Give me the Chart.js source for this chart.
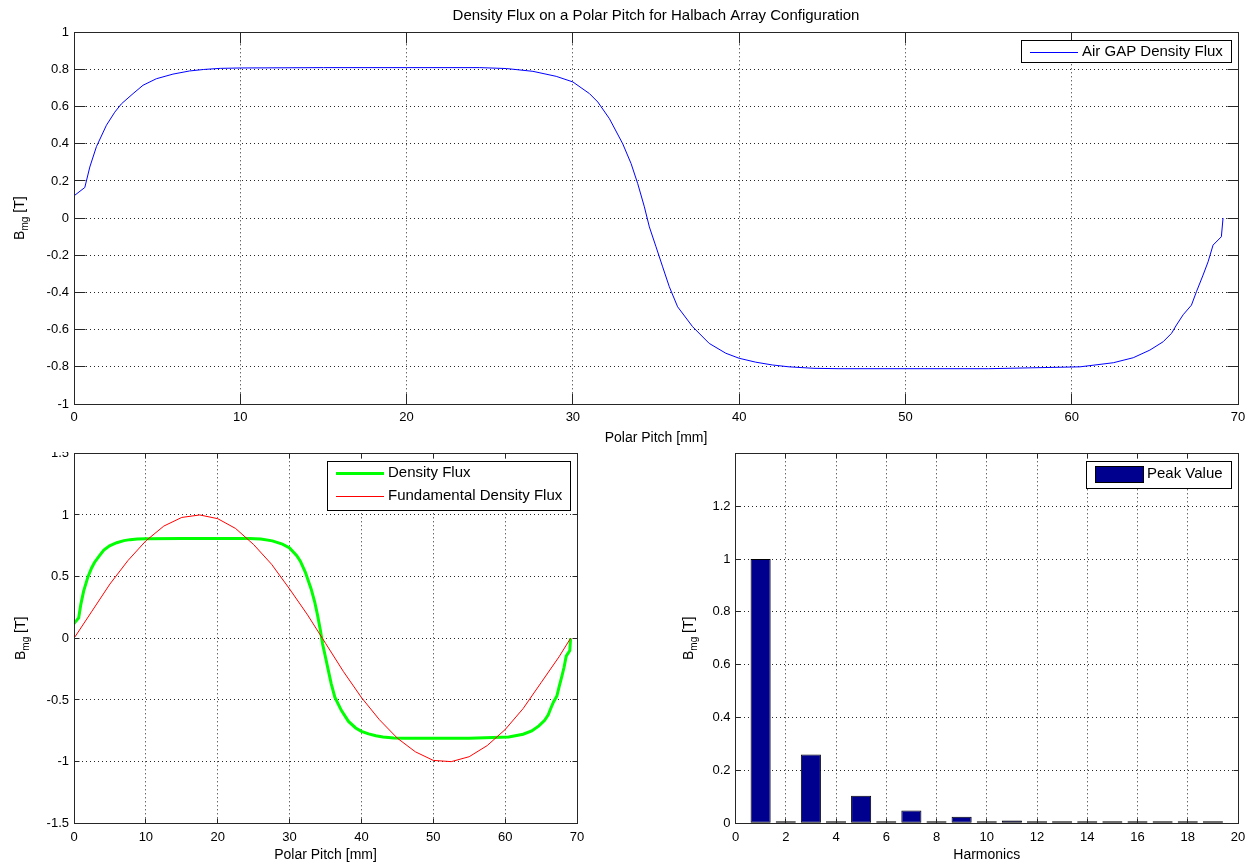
<!DOCTYPE html>
<html>
<head>
<meta charset="utf-8">
<title>Density Flux on a Polar Pitch for Halbach Array Configuration</title>
<script src="https://cdn.jsdelivr.net/npm/chart.js@4.4.1/dist/chart.umd.min.js"></script>
<style>
  html, body { margin: 0; padding: 0; background: #fff; }
  body { position: relative; width: 1254px; height: 867px; overflow: hidden; }
  .pane { position: absolute; background: #fff; }
</style>
</head>
<body>
<div class="pane" style="left:0;top:440px;width:620px;height:427px"><canvas id="fluxChart"></canvas></div>
<div class="pane" style="left:620px;top:440px;width:634px;height:427px"><canvas id="harmonicChart"></canvas></div>
<div class="pane" style="left:0;top:0;width:1254px;height:452px"><canvas id="airGapChart"></canvas></div>
<script>
// air gap flux density along the polar pitch
var pitchMm = [0, 0.65, 0.95, 1.35, 1.95, 2.45, 2.85, 3.55, 4.15, 4.95, 5.95, 6.95, 7.8, 8.8, 10, 15, 20, 24.4, 26, 27.6,
  29, 30, 31, 31.5, 32.2, 33, 33.5, 33.9, 34.3, 34.6, 35, 35.4, 35.8, 36.3, 37.2, 38.2, 39.2, 40, 41, 42,
  43, 44.5, 46, 50, 55, 60.5, 62.5, 63.7, 64.7, 65.5, 66, 66.3, 66.7, 67.2, 67.5, 67.9, 68.2, 68.5, 69, 69.1];
var airGapFlux = [0.12, 0.165, 0.275, 0.385, 0.5, 0.57, 0.615, 0.67, 0.715, 0.75, 0.775, 0.792, 0.8, 0.806, 0.808, 0.81, 0.81, 0.81, 0.805, 0.79,
  0.763, 0.733, 0.67, 0.625, 0.535, 0.40, 0.294, 0.186, 0.061, -0.047, -0.154, -0.262, -0.369, -0.477, -0.584, -0.674, -0.727, -0.754, -0.775, -0.79,
  -0.80, -0.808, -0.81, -0.81, -0.81, -0.80, -0.778, -0.751, -0.71, -0.665, -0.62, -0.575, -0.52, -0.468, -0.396, -0.306, -0.235, -0.145, -0.10, 0];

// fundamental component
var fundPitchMm = [0, 2.5, 5, 7.5, 10, 12.5, 15, 17.5, 20, 22.5, 25, 27.5, 30, 32.5, 35, 37.5, 40, 42.5, 45, 47.5,
  50, 52.5, 55, 57.5, 60, 62.5, 65, 67.5, 69.1];
var fundamentalFlux = [0, 0.22, 0.44, 0.63, 0.79, 0.91, 0.98, 1.0, 0.97, 0.89, 0.76, 0.6, 0.4, 0.19, -0.04, -0.27, -0.48, -0.66, -0.81, -0.92,
  -0.99, -1.0, -0.96, -0.87, -0.74, -0.57, -0.36, -0.15, 0];

// harmonic spectrum
var harmonicOrder = [1, 2, 3, 4, 5, 6, 7, 8, 9, 10, 11, 12, 13, 14, 15, 16, 17, 18, 19];
var harmonicPeak = [1.0, 0.003, 0.26, 0.003, 0.104, 0.003, 0.048, 0.003, 0.025, 0.003, 0.011, 0.003, 0.0075, 0.003, 0.004, 0.003, 0.003, 0.003, 0.003];

var chartTitle = 'Density Flux on a Polar Pitch for Halbach Array Configuration';

Chart.defaults.font.family = '"Liberation Sans", Arial, Helvetica, sans-serif';
Chart.defaults.font.size = 13;
Chart.defaults.color = '#000';

var GRID = 'rgba(0,0,0,0.85)';
var FRAME = '#262626';
var FONT = '"Liberation Sans", Arial, Helvetica, sans-serif';

function align(p) { return Math.round(p - 0.5) + 0.5; }
function fmt(v) { return String(+Number(v).toFixed(2)); }
function pairs(xs, ys) { return xs.map(function (x, i) { return {x: x, y: ys[i]}; }); }

function xAxis(min, max, step, title, height, titlePad) {
  return {
    type: 'linear', min: min, max: max, offset: false,
    grid: {color: GRID, lineWidth: 1, drawTicks: false, offset: false},
    border: {display: false, dash: [1, 3]},
    ticks: {stepSize: step, padding: 6, autoSkip: false, maxRotation: 0, callback: fmt},
    title: {display: true, text: title, font: {size: 14}, padding: {top: 0, bottom: titlePad}},
    afterFit: function (s) { s.height = height; }
  };
}
function yAxis(min, max, step, width, hideAbove) {
  return {
    type: 'linear', min: min, max: max,
    grid: {color: GRID, lineWidth: 1, drawTicks: false},
    border: {display: false, dash: [1, 3]},
    ticks: {stepSize: step, padding: 5, autoSkip: false, callback: function (v) {
      if (hideAbove !== undefined && v > hideAbove) return '';
      return fmt(v);
    }},
    afterFit: function (s) { s.width = width; }
  };
}

function drawYLabel(chart, x) {
  var ctx = chart.ctx, a = chart.chartArea;
  var big = '14px ' + FONT, small = '10px ' + FONT;
  ctx.save();
  ctx.fillStyle = '#000';
  ctx.textBaseline = 'alphabetic';
  ctx.font = big; var wB = ctx.measureText('B').width, wT = ctx.measureText(' [T]').width;
  ctx.font = small; var wS = ctx.measureText('mg').width;
  var total = wB + wS + wT;
  ctx.translate(x, (a.top + a.bottom) / 2);
  ctx.rotate(-Math.PI / 2);
  var sx = -total / 2;
  ctx.font = big; ctx.fillText('B', sx, 0);
  ctx.font = small; ctx.fillText('mg', sx + wB, 4);
  ctx.font = big; ctx.fillText(' [T]', sx + wB + wS, 0);
  ctx.restore();
}

function drawLegend(chart, lg) {
  var ctx = chart.ctx, a = chart.chartArea;
  var items = chart.data.datasets;
  ctx.save();
  ctx.font = '15px ' + FONT;
  var textW = 0;
  items.forEach(function (d) { textW = Math.max(textW, ctx.measureText(d.label).width); });
  var w = Math.round(61 + textW + 8);
  var right = Math.round(a.right - 7), top = Math.round(a.top + 8);
  var left = right - w;
  ctx.fillStyle = '#fff';
  ctx.fillRect(left, top, w, lg.height);
  ctx.strokeStyle = '#000';
  ctx.lineWidth = 1;
  ctx.setLineDash([]);
  ctx.strokeRect(left + 0.5, top + 0.5, w, lg.height);
  items.forEach(function (d, i) {
    var cy = top + lg.firstRow + i * lg.rowGap;
    if (chart.config.type === 'bar') {
      ctx.fillStyle = d.backgroundColor;
      ctx.fillRect(left + 9, Math.round(cy - 8), 48, 16);
      ctx.strokeStyle = '#000';
      ctx.lineWidth = 1;
      ctx.strokeRect(left + 9.5, Math.round(cy - 8) + 0.5, 48, 16);
    } else {
      ctx.strokeStyle = d.borderColor;
      ctx.lineWidth = d.borderWidth;
      ctx.beginPath();
      ctx.moveTo(left + 9, Math.round(cy) + 0.5);
      ctx.lineTo(left + 57, Math.round(cy) + 0.5);
      ctx.stroke();
    }
    ctx.fillStyle = '#000';
    ctx.textBaseline = 'middle';
    ctx.fillText(d.label, left + 61, cy);
  });
  ctx.restore();
}

// MATLAB style frame: full box, inward ticks, subscripted y label, boxed legend
var matlabAxes = {
  id: 'matlabAxes',
  afterDatasetsDraw: function (chart, args, opts) {
    var ctx = chart.ctx, a = chart.chartArea;
    var xs = chart.scales.x, ys = chart.scales.y;
    var l = align(a.left), r = align(a.right), t = align(a.top), b = align(a.bottom);
    var len = opts.tickLength;
    ctx.save();
    ctx.setLineDash([]);
    ctx.lineWidth = 1;
    ctx.strokeStyle = FRAME;
    ctx.beginPath();
    xs.ticks.forEach(function (tk) {
      var p = align(xs.getPixelForValue(tk.value));
      if (p <= l + 1 || p >= r - 1) return;
      ctx.moveTo(p, b); ctx.lineTo(p, b - len);
      ctx.moveTo(p, t); ctx.lineTo(p, t + len);
    });
    ys.ticks.forEach(function (tk) {
      var p = align(ys.getPixelForValue(tk.value));
      if (p <= t + 1 || p >= b - 1) return;
      ctx.moveTo(l, p); ctx.lineTo(l + len, p);
      ctx.moveTo(r, p); ctx.lineTo(r - len, p);
    });
    ctx.stroke();
    ctx.strokeRect(l, t, r - l, b - t);
    ctx.restore();
  },
  afterDraw: function (chart, args, opts) {
    drawYLabel(chart, opts.yLabelX);
    drawLegend(chart, opts.legend);
  }
};

new Chart(document.getElementById('airGapChart'), {
  type: 'line',
  data: {
    datasets: [{
      label: 'Air GAP Density Flux',
      data: pairs(pitchMm, airGapFlux),
      borderColor: '#0000ff', borderWidth: 1, pointRadius: 0, tension: 0
    }]
  },
  options: {
    responsive: true, maintainAspectRatio: false, animation: false, devicePixelRatio: 1,
    layout: {padding: {left: 0, right: 16, top: 0, bottom: 0}},
    plugins: {
      legend: {display: false}, tooltip: {enabled: false},
      title: {display: true, text: chartTitle, fullSize: false, color: '#000',
        font: {size: 15, weight: 'normal'}, padding: {top: 6.5, bottom: 7.8}},
      matlabAxes: {tickLength: 11, yLabelX: 24, legend: {height: 22, firstRow: 12, rowGap: 23.4}}
    },
    scales: {
      x: xAxis(0, 70, 10, 'Polar Pitch [mm]', 48, 5.6),
      y: yAxis(-1, 1, 0.2, 74)
    }
  },
  plugins: [matlabAxes]
});

new Chart(document.getElementById('fluxChart'), {
  type: 'line',
  data: {
    datasets: [{
      label: 'Density Flux',
      data: pairs(pitchMm, airGapFlux),
      borderColor: '#00ff00', borderWidth: 3, pointRadius: 0, tension: 0, order: 1
    }, {
      label: 'Fundamental Density Flux',
      data: pairs(fundPitchMm, fundamentalFlux),
      borderColor: '#ff0000', borderWidth: 1, pointRadius: 0, tension: 0, order: 0
    }]
  },
  options: {
    responsive: true, maintainAspectRatio: false, animation: false, devicePixelRatio: 1,
    layout: {padding: {left: 0, right: 43, top: 13.3, bottom: 0}},
    plugins: {
      legend: {display: false}, tooltip: {enabled: false},
      matlabAxes: {tickLength: 5, yLabelX: 25, legend: {height: 49, firstRow: 11.6, rowGap: 23.4}}
    },
    scales: {
      x: xAxis(0, 70, 10, 'Polar Pitch [mm]', 43.7, 3.9),
      y: yAxis(-1.5, 1.5, 0.5, 74)
    }
  },
  plugins: [matlabAxes]
});

new Chart(document.getElementById('harmonicChart'), {
  type: 'bar',
  data: {
    datasets: [{
      label: 'Peak Value',
      data: pairs(harmonicOrder, harmonicPeak),
      backgroundColor: '#00008f', borderColor: '#000', borderWidth: 1,
      borderSkipped: false, minBarLength: 2,
      barPercentage: 0.8, categoryPercentage: 1
    }]
  },
  options: {
    responsive: true, maintainAspectRatio: false, animation: false, devicePixelRatio: 1,
    layout: {padding: {left: 0, right: 16, top: 13.3, bottom: 0}},
    plugins: {
      legend: {display: false}, tooltip: {enabled: false},
      matlabAxes: {tickLength: 5, yLabelX: 73, legend: {height: 27, firstRow: 13, rowGap: 23.4}}
    },
    scales: {
      x: xAxis(0, 20, 2, 'Harmonics', 43.7, 3.9),
      y: yAxis(0, 1.4, 0.2, 115.5, 1.3)
    }
  },
  plugins: [matlabAxes]
});
</script>
</body>
</html>
